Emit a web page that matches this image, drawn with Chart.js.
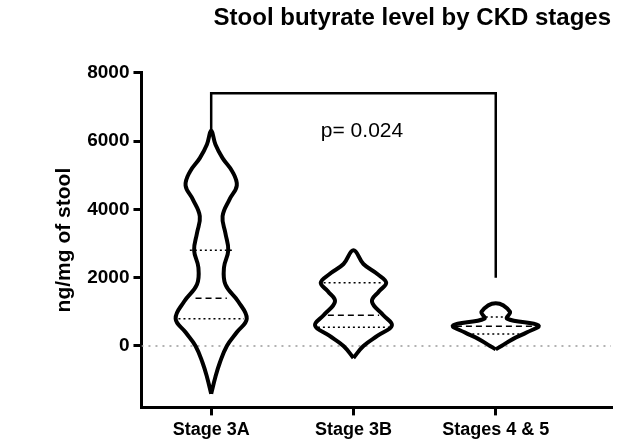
<!DOCTYPE html><html><head><script src="https://cdn.jsdelivr.net/npm/chart.js@4"></script>
<style>body{margin:0;background:#fff}#w{width:629px;height:447px}</style></head><body><div id="w"><canvas id="c"></canvas></div>
<script>
const categories=["Stage 3A","Stage 3B","Stages 4 & 5"];
const yTicks=[0,2000,4000,6000,8000];
const levA=[-1400,-900,-500,0,400,800,1300,1800,2300,2800,3300,3800,4300,4700,5100,5500,5900,6300];
const widA=[0,0.03,0.06,0.11,0.18,0.25,0.19,0.1,0.09,0.12,0.1,0.08,0.13,0.18,0.15,0.08,0.03,0];
const levB=[-350,0,300,600,900,1300,1600,1850,2100,2400,2800];
const widB=[0,0.07,0.17,0.27,0.21,0.13,0.18,0.23,0.17,0.07,0];
const levC=[-100,0,200,400,600,800,1000,1250];
const widC=[0,0.04,0.12,0.22,0.3,0.08,0.1,0];
const quartA=[800,1400,2800],qwA=[0.23,0.11,0.15];
const quartB=[550,900,1850],qwB=[0.25,0.18,0.21];
const quartC=[350,580,850],qwC=[0.2,0.28,0.07];
const pText="p= 0.024";
function outline(pos,lev,wid){const r=lev.map((y,i)=>({x:pos+wid[i],y}));const l=lev.map((y,i)=>({x:pos-wid[i],y})).reverse();return r.concat(l.slice(1));}
const ds=[];
[[levA,widA,quartA,qwA],[levB,widB,quartB,qwB],[levC,widC,quartC,qwC]].forEach((v,k)=>{
 const p=k+1;
 ds.push({data:outline(p,v[0],v[1]),borderColor:'#000',borderWidth:4,tension:0.4,pointRadius:0,showLine:true});
 v[2].forEach((q,j)=>ds.push({data:[{x:p-v[3][j],y:q},{x:p+v[3][j],y:q}],borderColor:'#000',borderWidth:1.5,borderDash:j==1?[6,4]:[2,3],pointRadius:0,showLine:true}));
});
ds.push({data:[{x:0.51,y:0},{x:3.81,y:0}],borderColor:'#999',borderWidth:1.5,borderDash:[2,5],pointRadius:0,showLine:true});
ds.push({data:[{x:1,y:6300},{x:1,y:7400},{x:3,y:7400},{x:3,y:2000}],borderColor:'#000',borderWidth:2.5,pointRadius:0,showLine:true,tension:0});
const txt={id:'t',afterDraw(c){const g=c.ctx;g.save();g.font='21px Arial, Liberation Sans';g.fillStyle='#000';g.textAlign='center';g.textBaseline='middle';g.fillText(pText,c.scales.x.getPixelForValue(2.06),c.scales.y.getPixelForValue(6300));g.restore();}};
const F='Arial, Liberation Sans';
new Chart(document.getElementById('c'),{type:'scatter',data:{datasets:ds},plugins:[txt],
options:{animation:false,responsive:true,maintainAspectRatio:false,layout:{padding:{left:48,right:18,top:0,bottom:2}},
plugins:{legend:{display:false},tooltip:{enabled:false},title:{display:true,text:'Stool butyrate level by CKD stages',font:{size:24,weight:'bold',family:F},color:'#000',align:'end',padding:{top:4,bottom:40}}},
scales:{x:{type:'linear',min:0.51,max:3.81,afterBuildTicks(a){a.ticks=[1,2,3].map(v=>({value:v}));},ticks:{callback:(v)=>categories[v-1],font:{size:18,weight:'bold',family:F},color:'#000',padding:4},grid:{display:true,drawOnChartArea:false,drawTicks:true,tickLength:8,lineWidth:3,color:'#000'},border:{width:3,color:'#000'}},
y:{min:-1800,max:8000,afterBuildTicks(a){a.ticks=yTicks.map(v=>({value:v}));},ticks:{callback:(v)=>String(v),font:{size:19,weight:'bold',family:F},color:'#000',padding:4},grid:{display:true,drawOnChartArea:false,drawTicks:true,tickLength:8,lineWidth:3,color:'#000'},border:{width:3,color:'#000'},title:{display:true,text:'ng/mg of stool',font:{size:21,weight:'bold',family:F},color:'#000',padding:{bottom:6}}}}}});
</script></body></html>
